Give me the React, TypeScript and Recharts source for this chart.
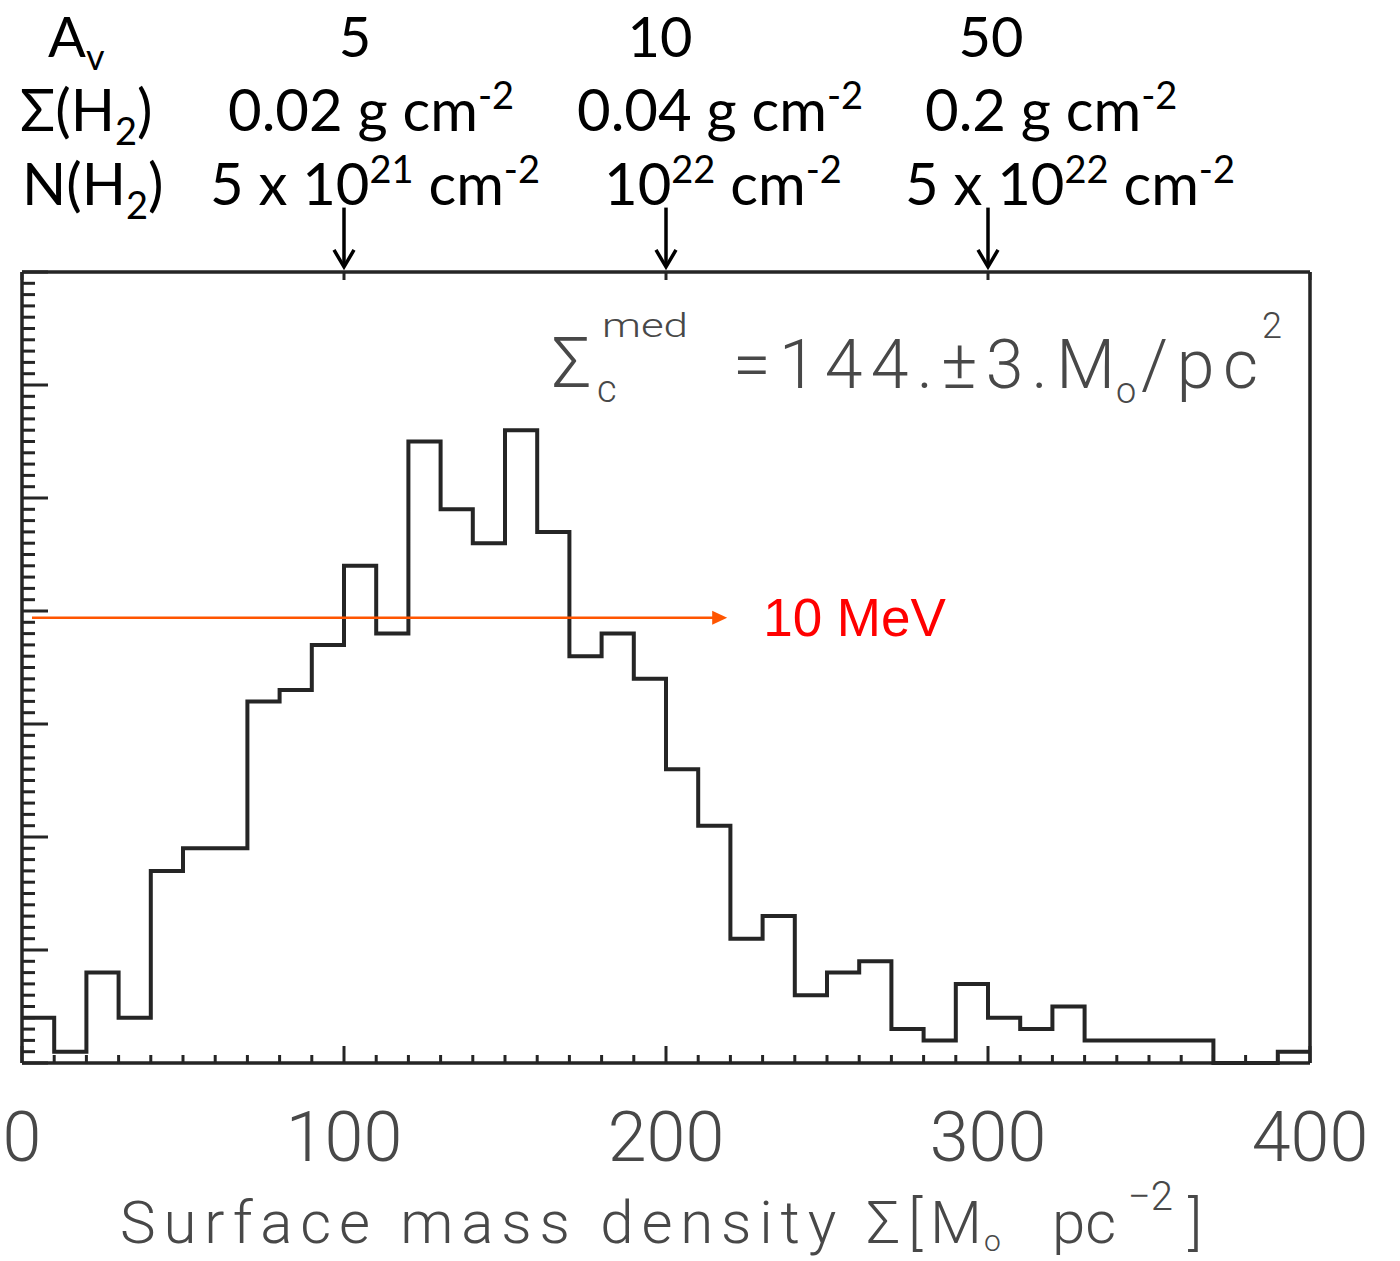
import { ComposedChart, Line, XAxis, YAxis, ReferenceLine } from "recharts";

// histogram: bin edges (M_sun/pc^2) and counts per 10-wide bin
const binEdges = [
  0, 10, 20, 30, 40, 50, 60, 70, 80, 90, 100, 110, 120, 130, 140, 150, 160, 170, 180, 190, 200,
  210, 220, 230, 240, 250, 260, 270, 280, 290, 300, 310, 320, 330, 340, 350, 360, 370, 380, 390, 400,
];
const counts = [
  4, 1, 8, 4, 17, 19, 19, 32, 33, 37, 44, 38, 55, 49, 46, 56, 47, 36, 38, 34,
  26, 21, 11, 13, 6, 8, 9, 3, 2, 7, 4, 3, 5, 2, 2, 2, 2, 0, 0, 1,
];
const xMajor = [0, 100, 200, 300, 400];
const xTicks = Array.from({ length: 41 }, (_, i) => i * 10);
const yTicks = Array.from({ length: 71 }, (_, i) => i);

// top markers (A_v = 5, 10, 50)
const markerX = [100, 200, 300];
const avLabels = ["5", "10", "50"];
const sigmaLabels = ["0.02", "0.04", "0.2"];
const arrowTop = 75.7;
const arrowTip = 70.45;

// 10 MeV line
const mevLevel = 39.4;
const mevStart = 3.1;
const mevEnd = 219;

const FRAME = "#252525";
const GRAY = "#484848";
const TOP_FONT = "Lato, 'Open Sans', sans-serif";
const IDL_FONT = "Roboto, 'DejaVu Sans', sans-serif";

const histData = binEdges.map((x, i) => ({
  x,
  count: counts[Math.min(i, counts.length - 1)],
}));

const BottomTick = (props: any) => {
  const { x, y, payload } = props;
  const major = xMajor.includes(payload.value);
  return (
    <g>
      <line x1={x} x2={x} y1={y} y2={y - (major ? 17 : 8)} stroke={FRAME} strokeWidth={3} />
      {major && (
        <text
          x={x}
          y={y + 98}
          textAnchor="middle"
          fontFamily={IDL_FONT}
          fontWeight={300}
          fontSize={70}
          fill={GRAY}
        >
          {payload.value}
        </text>
      )}
    </g>
  );
};

const TopTick = (props: any) => {
  const { x, y } = props;
  return <line x1={x} x2={x} y1={y} y2={y + 8} stroke={FRAME} strokeWidth={3} />;
};

const LeftTick = (props: any) => {
  const { x, y, payload } = props;
  const len = payload.value % 10 === 0 ? 26 : 13;
  return <line x1={x} x2={x + len} y1={y} y2={y} stroke={FRAME} strokeWidth={3} />;
};

const RightTick = (props: any) => {
  const { x, y, payload } = props;
  const len = payload.value % 10 === 0 ? 27 : 14;
  return <line x1={x} x2={x - len} y1={y} y2={y} stroke={FRAME} strokeWidth={3} />;
};

const DownArrow = (props: any) => {
  const { x1, y1, x2, y2 } = props;
  return (
    <g>
      <line x1={x1} y1={y1} x2={x2} y2={y2} stroke="#000" strokeWidth={3.5} />
      <path
        d={`M${x2 - 10},${y2 - 17} L${x2},${y2} L${x2 + 10},${y2 - 17}`}
        fill="none"
        stroke="#000"
        strokeWidth={3.5}
      />
    </g>
  );
};

const MevArrow = (props: any) => {
  const { x1, y1, x2, y2 } = props;
  return (
    <g>
      <line x1={x1} y1={y1} x2={x2 - 12} y2={y2} stroke="#ff5500" strokeWidth={2.5} />
      <polygon points={`${x2 - 15},${y2 - 7} ${x2},${y2} ${x2 - 15},${y2 + 7}`} fill="#ff5500" />
      <text
        x={x2 + 36}
        y={y2 + 18}
        fontFamily="'Liberation Sans', Arial, sans-serif"
        fontSize={53}
        fill="#ff0000"
      >
        10 MeV
      </text>
    </g>
  );
};

const Overlay = () => {
  return (
    <svg
      width={1400}
      height={1261}
      style={{ position: "absolute", left: 0, top: 0, pointerEvents: "none" }}
    >
      <g fontFamily={TOP_FONT} fill="#000">
        <text x={48} y={57} fontSize={56}>
          A<tspan fontSize={36} dy={13}>v</tspan>
        </text>
        <text x={20} y={131} fontSize={58}>
          Σ(H<tspan fontSize={38} dy={14}>2</tspan>
          <tspan dy={-14}>)</tspan>
        </text>
        <text x={22} y={205} fontSize={58}>
          N(H<tspan fontSize={38} dy={14}>2</tspan>
          <tspan dy={-14}>)</tspan>
        </text>
        {avLabels.map((t, i) => (
          <text key={t} x={[355, 660, 991][i]} y={57} fontSize={56} textAnchor="middle">
            {t}
          </text>
        ))}
        {sigmaLabels.map((t, i) => (
          <text key={t} x={[228, 577, 925][i]} y={131} fontSize={58}>
            {t} g cm<tspan fontSize={38} dy={-22}>-2</tspan>
          </text>
        ))}
        <text x={210} y={205} fontSize={58}>
          5 x 10<tspan fontSize={38} dy={-22}>21</tspan>
          <tspan dy={22}> cm</tspan>
          <tspan fontSize={38} dy={-22}>-2</tspan>
        </text>
        <text x={604} y={205} fontSize={58}>
          10<tspan fontSize={38} dy={-22}>22</tspan>
          <tspan dy={22}> cm</tspan>
          <tspan fontSize={38} dy={-22}>-2</tspan>
        </text>
        <text x={905} y={205} fontSize={58}>
          5 x 10<tspan fontSize={38} dy={-22}>22</tspan>
          <tspan dy={22}> cm</tspan>
          <tspan fontSize={38} dy={-22}>-2</tspan>
        </text>
      </g>

      <g fontFamily={IDL_FONT} fontWeight={300} fill={GRAY}>
        <text x={552} y={387} fontSize={70}>Σ</text>
        <text x={602} y={337} fontSize={33} textLength={86} lengthAdjust="spacingAndGlyphs">med</text>
        <text x={597} y={402} fontSize={38}>c</text>
        <text x={733} y={388} fontSize={68} textLength={382} lengthAdjust="spacing">
          =144.±3.M
        </text>
        <text x={1116} y={403} fontSize={36}>o</text>
        <text x={1141} y={388} fontSize={68} textLength={117} lengthAdjust="spacing">
          /pc
        </text>
        <text x={1262} y={338} fontSize={36}>2</text>

        <text x={120} y={1243} fontSize={60} textLength={862} lengthAdjust="spacing">
          Surface mass density Σ[M
        </text>
        <text x={984} y={1251} fontSize={30}>o</text>
        <text x={1052} y={1243} fontSize={60}>pc</text>
        <text x={1128} y={1210} fontSize={40}>−2</text>
        <text x={1188} y={1243} fontSize={60}>]</text>
      </g>
    </svg>
  );
};

export default function App() {
  return (
    <div style={{ position: "absolute", left: 0, top: 0, width: 1400, height: 1261, background: "#fff" }}>
      <ComposedChart
        width={1400}
        height={1261}
        data={histData}
        margin={{ top: 271, right: 89, bottom: 197, left: 21 }}
      >
        <XAxis
          xAxisId="b"
          dataKey="x"
          type="number"
          domain={[0, 400]}
          ticks={xTicks}
          interval={0}
          height={1}
          tickSize={0}
          tickMargin={0}
          tickLine={false}
          tick={<BottomTick />}
          axisLine={{ stroke: FRAME, strokeWidth: 3.5 }}
        />
        <XAxis
          xAxisId="t"
          orientation="top"
          type="number"
          domain={[0, 400]}
          ticks={xTicks}
          interval={0}
          height={1}
          tickSize={0}
          tickMargin={0}
          tickLine={false}
          tick={<TopTick />}
          axisLine={{ stroke: FRAME, strokeWidth: 3.5 }}
        />
        <YAxis
          yAxisId="l"
          type="number"
          domain={[0, 70]}
          ticks={yTicks}
          interval={0}
          width={1}
          tickSize={0}
          tickMargin={0}
          tickLine={false}
          tick={<LeftTick />}
          axisLine={{ stroke: FRAME, strokeWidth: 3.5 }}
        />
        <YAxis
          yAxisId="r"
          orientation="right"
          type="number"
          domain={[0, 70]}
          ticks={yTicks}
          interval={0}
          width={1}
          tickSize={0}
          tickMargin={0}
          tickLine={false}
          tick={<RightTick />}
          axisLine={{ stroke: FRAME, strokeWidth: 3.5 }}
        />
        <Line
          xAxisId="b"
          yAxisId="l"
          dataKey="count"
          type="stepAfter"
          stroke={FRAME}
          strokeWidth={4}
          dot={false}
          activeDot={false}
          isAnimationActive={false}
        />
        {markerX.map((mx) => (
          <ReferenceLine
            key={mx}
            xAxisId="b"
            yAxisId="l"
            ifOverflow="visible"
            segment={[
              { x: mx, y: arrowTop },
              { x: mx, y: arrowTip },
            ]}
            shape={DownArrow}
          />
        ))}
        <ReferenceLine
          xAxisId="b"
          yAxisId="l"
          ifOverflow="visible"
          segment={[
            { x: mevStart, y: mevLevel },
            { x: mevEnd, y: mevLevel },
          ]}
          shape={MevArrow}
        />
      </ComposedChart>
      <Overlay />
    </div>
  );
}
